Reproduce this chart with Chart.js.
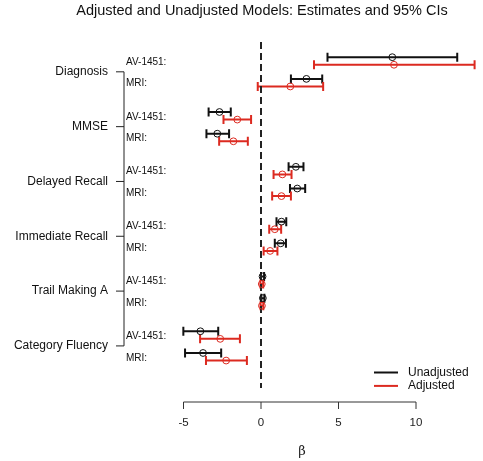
<!DOCTYPE html>
<html>
<head>
<meta charset="utf-8">
<script src="https://cdn.jsdelivr.net/npm/chart.js@4.4.1/dist/chart.umd.min.js"></script>
<style>
  html, body { margin: 0; padding: 0; background: #fff; }
  #wrap { width: 483px; height: 461px; }
</style>
</head>
<body>
<div id="wrap"><canvas id="forest"></canvas></div>
<script>
const groups = ["Diagnosis", "MMSE", "Delayed Recall", "Immediate Recall", "Trail Making A", "Category Fluency"];
const modalities = ["AV-1451:", "MRI:"];
const seriesNames = ["Unadjusted", "Adjusted"];
const seriesColors = ["#111111", "#dc2a20"];
const titleText = "Adjusted and Unadjusted Models: Estimates and 95% CIs";
const xLabel = "β";

// one entry per row: group x modality (AV-1451 first, then MRI)
const unadjEst  = [8.47, 2.93, -2.68, -2.82, 2.25, 2.34, 1.32, 1.27, 0.10, 0.12, -3.91, -3.74];
const unadjLow  = [4.29, 1.93, -3.38, -3.52, 1.78, 1.87, 1.00, 0.89, 0.00, 0.02, -5.01, -4.90];
const unadjHigh = [12.66, 3.95, -1.95, -2.06, 2.74, 2.85, 1.63, 1.61, 0.20, 0.22, -2.76, -2.57];

const adjEst  = [8.58, 1.89, -1.53, -1.78, 1.38, 1.32, 0.89, 0.59, 0.05, 0.06, -2.63, -2.25];
const adjLow  = [3.42, -0.21, -2.42, -2.70, 0.81, 0.72, 0.53, 0.17, -0.04, -0.03, -3.93, -3.55];
const adjHigh = [13.78, 4.01, -0.64, -0.85, 1.97, 1.93, 1.30, 1.06, 0.14, 0.15, -1.36, -0.91];

const xTicks = [-5, 0, 5, 10];

const ests = [unadjEst, adjEst];
const lows = [unadjLow, adjLow];
const highs = [unadjHigh, adjHigh];

const GROUP_GAP = 2.527;
const SERIES_OFF = 0.35;
const FONT = "'Liberation Sans', Arial, sans-serif";

function rowPos(r, s) {
    return Math.floor(r / 2) * GROUP_GAP + (r % 2) + s * SERIES_OFF;
}

// horizontal CI segments with end caps
const errorBars = {
    id: "errorBars",
    beforeDatasetsDraw(chart) {
        const { ctx, scales: { x, y } } = chart;
        ctx.save();
        ctx.lineWidth = 2;
        lows.forEach((lo, s) => {
            ctx.strokeStyle = seriesColors[s];
            lo.forEach((v, r) => {
                const py = y.getPixelForValue(rowPos(r, s));
                const x1 = x.getPixelForValue(v);
                const x2 = x.getPixelForValue(highs[s][r]);
                ctx.beginPath();
                ctx.moveTo(x1, py); ctx.lineTo(x2, py);
                ctx.moveTo(x1, py - 4.5); ctx.lineTo(x1, py + 4.5);
                ctx.moveTo(x2, py - 4.5); ctx.lineTo(x2, py + 4.5);
                ctx.stroke();
            });
        });
        ctx.restore();
    }
};

// title, zero line, R-style x axis, row labels, bracket and legend
const decorations = {
    id: "decorations",
    beforeDatasetsDraw(chart) {
        const { ctx, chartArea, scales: { x } } = chart;
        const x0 = x.getPixelForValue(0);
        ctx.save();
        ctx.strokeStyle = "#222";
        ctx.lineWidth = 2;
        ctx.setLineDash([7, 4]);
        ctx.beginPath();
        ctx.moveTo(x0, chartArea.top);
        ctx.lineTo(x0, chartArea.bottom);
        ctx.stroke();
        ctx.restore();
    },
    afterDraw(chart) {
        const { ctx, chartArea, scales: { x, y } } = chart;
        ctx.save();
        ctx.textBaseline = "middle";

        ctx.fillStyle = "#111";
        ctx.textAlign = "center";
        ctx.font = "14.5px " + FONT;
        ctx.fillText(titleText, 262, 11);

        // x axis line spanning the tick range only
        const axisY = chartArea.bottom + 14;
        ctx.strokeStyle = "#333";
        ctx.lineWidth = 1;
        ctx.beginPath();
        ctx.moveTo(x.getPixelForValue(xTicks[0]), axisY);
        ctx.lineTo(x.getPixelForValue(xTicks[xTicks.length - 1]), axisY);
        xTicks.forEach(t => {
            const px = x.getPixelForValue(t);
            ctx.moveTo(px, axisY);
            ctx.lineTo(px, axisY + 7);
        });
        ctx.stroke();

        ctx.fillStyle = "#222";
        ctx.font = "11.5px " + FONT;
        xTicks.forEach(t => ctx.fillText(String(t), x.getPixelForValue(t), axisY + 21));

        ctx.font = "13px 'DejaVu Serif', serif";
        ctx.fillText(xLabel, 302, axisY + 50);

        // group labels with bracket
        const bracketX = 124;
        const tickYs = groups.map((g, i) => y.getPixelForValue(i * GROUP_GAP + 0.5 + SERIES_OFF / 2));
        ctx.strokeStyle = "#222";
        ctx.beginPath();
        ctx.moveTo(bracketX, tickYs[0]);
        ctx.lineTo(bracketX, tickYs[tickYs.length - 1]);
        tickYs.forEach(ty => {
            ctx.moveTo(bracketX - 8, ty);
            ctx.lineTo(bracketX, ty);
        });
        ctx.stroke();

        ctx.fillStyle = "#111";
        ctx.textAlign = "right";
        ctx.font = "12px " + FONT;
        groups.forEach((g, i) => ctx.fillText(g, 108, tickYs[i]));

        ctx.textAlign = "left";
        ctx.font = "10px " + FONT;
        for (let r = 0; r < groups.length * 2; r++) {
            ctx.fillText(modalities[r % 2], 126, y.getPixelForValue(rowPos(r, 0) + SERIES_OFF / 2) + 1);
        }

        // legend
        const lx = chartArea.right - 104;
        ctx.font = "12px " + FONT;
        seriesNames.forEach((name, s) => {
            const ly = chartArea.bottom - 15.5 + s * 13.4;
            ctx.strokeStyle = seriesColors[s];
            ctx.lineWidth = 2;
            ctx.beginPath();
            ctx.moveTo(lx, ly);
            ctx.lineTo(lx + 24, ly);
            ctx.stroke();
            ctx.fillStyle = "#111";
            ctx.fillText(name, lx + 34, ly);
        });
        ctx.restore();
    }
};

const datasets = seriesNames.map((name, s) => ({
    label: name,
    data: ests[s].map((v, r) => ({ x: v, y: rowPos(r, s) })),
    showLine: false,
    pointRadius: 3.4,
    pointBorderWidth: 1,
    pointBorderColor: seriesColors[s],
    pointBackgroundColor: "rgba(0,0,0,0)"
}));

new Chart(document.getElementById("forest"), {
    type: "scatter",
    data: { datasets },
    plugins: [errorBars, decorations],
    options: {
        responsive: true,
        maintainAspectRatio: false,
        animation: false,
        events: [],
        layout: { padding: { left: 168, right: 1, top: 42, bottom: 73 } },
        plugins: {
            legend: { display: false },
            tooltip: { enabled: false },
            title: { display: false }
        },
        scales: {
            x: { type: "linear", display: false, min: -6, max: 14 },
            y: { type: "linear", display: false, reverse: true, min: -0.7, max: 15.25 }
        }
    }
});
</script>
</body>
</html>
